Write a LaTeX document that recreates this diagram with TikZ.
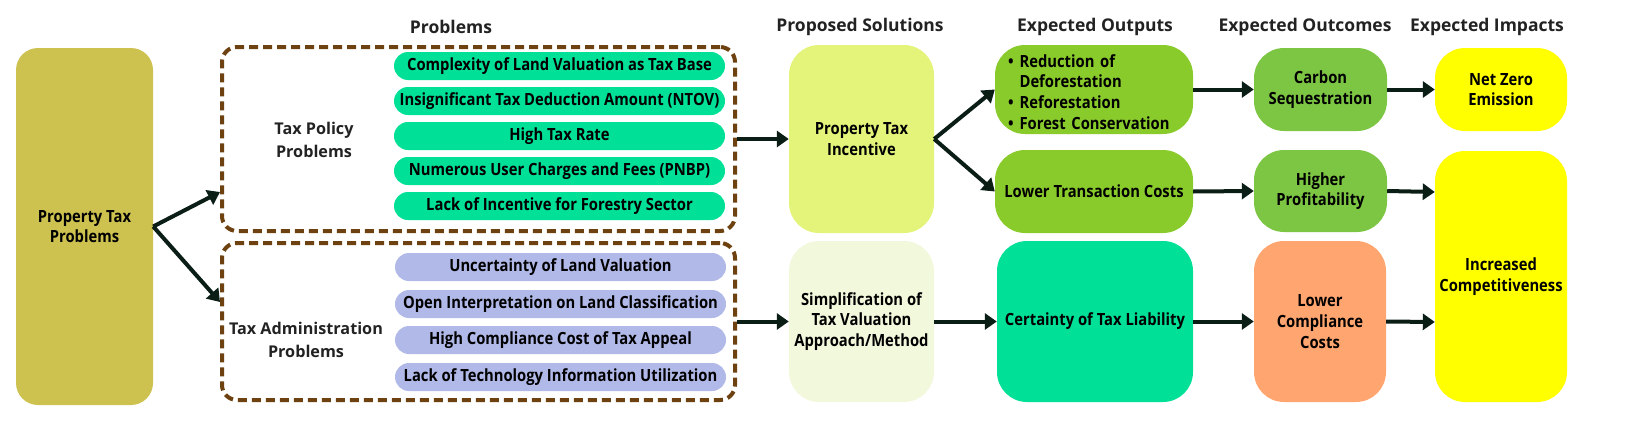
\documentclass[tikz,border=0pt]{standalone}
\usepackage{fontspec}
\setmainfont{Open Sans}
\newfontfamily\condfont[FakeStretch=0.88]{Open Sans}
\usetikzlibrary{arrows.meta}
\definecolor{olivebox}{HTML}{CDC150}
\definecolor{greenrow}{HTML}{00E096}
\definecolor{purplerow}{HTML}{B1B9E8}
\definecolor{brownline}{HTML}{6E4210}
\definecolor{incent}{HTML}{E4F47A}
\definecolor{simpl}{HTML}{F2F8DC}
\definecolor{outgreen}{HTML}{8ACB2C}
\definecolor{outcgreen}{HTML}{7DC644}
\definecolor{orangebox}{HTML}{FFA570}
\definecolor{yellowbox}{HTML}{FFFF00}
\definecolor{arrowcol}{HTML}{0B1E15}
\definecolor{titlecol}{HTML}{222222}
\begin{document}
\begin{tikzpicture}[x=1pt,y=-1pt,
  titletext/.style={font=\bfseries\fontsize{17.5}{21}\selectfont, text=titlecol, inner sep=0},
  grouplabel/.style={font=\bfseries\fontsize{16.2}{23}\selectfont, text=titlecol, align=center, inner sep=0},
  boxtext/.style={font=\condfont\bfseries\fontsize{16.8}{20.7}\selectfont, align=center, inner sep=0, text=black},
  bigbox/.style={boxtext, rounded corners=#1},
  bigbox/.default=30pt,
  rowbox/.style={boxtext, rounded corners=14pt, minimum width=331pt, minimum height=28pt},
  groupbox/.style={draw=brownline, line width=4pt, dash pattern=on 9pt off 5pt, rounded corners=15pt},
  flow/.style={draw=arrowcol, line width=4pt, -{Triangle[length=12pt,width=16pt]}},
]
\useasboundingbox (0,0) rectangle (1651,447);

% titles
\node[titletext] (t1) at (451,27) {Problems};
\node[titletext] (t2) at (860,27) {Proposed Solutions};
\node[titletext] (t3) at (1095,27) {Expected Outputs};
\node[titletext] (t4) at (1305,27) {Expected Outcomes};
\node[titletext] (t5) at (1487,27) {Expected Impacts};

% left box
\node[bigbox=22pt, fill=olivebox, minimum width=137pt, minimum height=357pt] (ptp) at (84.5,226.5) {Property Tax\\Problems};

% group boxes
\node[groupbox, minimum width=513pt, minimum height=184pt] (dash1) at (478.5,139) {};
\node[groupbox, minimum width=513pt, minimum height=157pt] (dash2) at (478.5,321.5) {};

\node[grouplabel] (tpl) at (314,140) {Tax Policy\\Problems};
\node[grouplabel] (tal) at (306,340) {Tax Administration\\Problems};

% policy rows
\node[rowbox, fill=greenrow] (g1) at (559.5,66) {Complexity of Land Valuation as Tax Base};
\node[rowbox, fill=greenrow] (g2) at (559.5,101) {Insignificant Tax Deduction Amount (NTOV)};
\node[rowbox, fill=greenrow] (g3) at (559.5,136) {High Tax Rate};
\node[rowbox, fill=greenrow] (g4) at (559.5,171) {Numerous User Charges and Fees (PNBP)};
\node[rowbox, fill=greenrow] (g5) at (559.5,206) {Lack of Incentive for Forestry Sector};

% administration rows
\node[rowbox, fill=purplerow] (p1) at (560.5,267) {Uncertainty of Land Valuation};
\node[rowbox, fill=purplerow] (p2) at (560.5,304) {Open Interpretation on Land Classification};
\node[rowbox, fill=purplerow] (p3) at (560.5,340) {High Compliance Cost of Tax Appeal};
\node[rowbox, fill=purplerow] (p4) at (560.5,377) {Lack of Technology Information Utilization};

% solutions
\node[bigbox, fill=incent, minimum width=145pt, minimum height=188pt] (inc) at (861.5,139) {Property Tax\\Incentive};
\node[bigbox, fill=simpl, minimum width=145pt, minimum height=161pt] (simp) at (861.5,321.5) {Simplification of\\Tax Valuation\\Approach/Method};

% outputs
\node[bigbox, fill=outgreen, minimum width=198pt, minimum height=89pt, text width=172pt, inner xsep=13pt, align=left] (out1) at (1094,89.5)
  {\raisebox{-4.5pt}[\height][\depth]{\begin{tabular}{@{}l@{\hspace{6pt}}l@{}}\textbullet & Reduction of\\ & Deforestation\\ \textbullet & Reforestation\\ \textbullet & Forest Conservation\end{tabular}}};
\node[bigbox, fill=outgreen, minimum width=198pt, minimum height=83pt] (out2) at (1094,191.5) {Lower Transaction Costs};
\node[bigbox, fill=greenrow, minimum width=196pt, minimum height=161pt] (cert) at (1095,321.5) {Certainty of Tax Liability};

% outcomes
\node[bigbox, fill=outcgreen, minimum width=133pt, minimum height=83pt] (carb) at (1320.5,89.5) {Carbon\\Sequestration};
\node[bigbox, fill=outcgreen, minimum width=133pt, minimum height=82pt] (prof) at (1320.5,191) {Higher\\Profitability};
\node[bigbox, fill=orangebox, minimum width=132pt, minimum height=161pt] (lcc) at (1320,321.5) {Lower\\Compliance\\Costs};

% impacts
\node[bigbox, fill=yellowbox, minimum width=132pt, minimum height=83pt] (nze) at (1501,89.5) {Net Zero\\Emission};
\node[bigbox, fill=yellowbox, minimum width=132pt, minimum height=251pt] (comp) at (1501,276.5) {Increased\\Competitiveness};

% connectors
\draw[flow] (ptp.east) -- ([yshift=-53pt]dash1.west);
\draw[flow] (ptp.east) -- ([yshift=19.5pt]dash2.west);
\draw[flow] (dash1.east) -- (inc.west);
\draw[flow] (dash2.east) -- (simp.west);
\draw[flow] (inc.east) -- (out1.west);
\draw[flow] (inc.east) -- (out2.west);
\draw[flow] (simp.east) -- (cert.west);
\draw[flow] (out1.east) -- (carb.west);
\draw[flow] (out2.east) -- (prof.west);
\draw[flow] (cert.east) -- (lcc.west);
\draw[flow] (carb.east) -- (nze.west);
\draw[flow] (prof.east) -- ([yshift=84.5pt]comp.west);
\draw[flow] (lcc.east) -- ([yshift=-45.5pt]comp.west);
\end{tikzpicture}
\end{document}
